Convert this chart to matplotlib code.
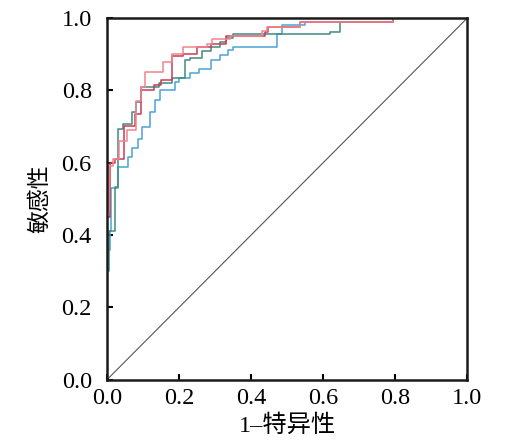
import matplotlib
matplotlib.use("Agg")
import matplotlib.pyplot as plt

# ROC step vertices (1 - specificity, sensitivity)
pink_fpr = [0, 0, 0.006, 0.017, 0.033, 0.055, 0.08, 0.093, 0.106, 0.156, 0.18, 0.212,
            0.277, 0.291, 0.342, 0.43, 0.445, 0.536, 0.795, 1.0]
pink_tpr = [0, 0.47, 0.59, 0.61, 0.66, 0.69, 0.77, 0.81, 0.85, 0.88, 0.90, 0.92,
            0.929, 0.943, 0.952, 0.965, 0.977, 0.989, 1.0, 1.0]

red_fpr = [0, 0, 0.009, 0.021, 0.046, 0.077, 0.095, 0.13, 0.15, 0.18, 0.21, 0.25,
           0.29, 0.33, 0.439, 0.448, 0.536, 0.795, 1.0]
red_tpr = [0, 0.45, 0.60, 0.61, 0.703, 0.735, 0.80, 0.815, 0.83, 0.895, 0.90, 0.92,
           0.93, 0.952, 0.963, 0.977, 0.989, 1.0, 1.0]

teal_fpr = [0, 0, 0.004, 0.021, 0.031, 0.044, 0.068, 0.08, 0.093, 0.143, 0.18, 0.217,
            0.23, 0.263, 0.29, 0.314, 0.33, 0.351, 0.619, 0.647, 0.795, 1.0]
teal_tpr = [0, 0.30, 0.41, 0.533, 0.694, 0.706, 0.74, 0.768, 0.81, 0.822, 0.835, 0.883,
            0.89, 0.91, 0.92, 0.933, 0.945, 0.956, 0.963, 0.989, 1.0, 1.0]

blue_fpr = [0, 0, 0.008, 0.012, 0.031, 0.058, 0.07, 0.085, 0.098, 0.118, 0.132, 0.147,
            0.19, 0.20, 0.23, 0.254, 0.29, 0.314, 0.337, 0.351, 0.471, 0.485, 0.55,
            0.795, 1.0]
blue_tpr = [0, 0.36, 0.41, 0.53, 0.588, 0.616, 0.64, 0.665, 0.70, 0.74, 0.773, 0.80,
            0.823, 0.835, 0.848, 0.86, 0.883, 0.897, 0.911, 0.92, 0.957, 0.98, 0.989,
            1.0, 1.0]

ticks = [0.0, 0.2, 0.4, 0.6, 0.8, 1.0]

plt.rcParams['font.family'] = ['Liberation Serif', 'Noto Sans CJK SC']

fig = plt.figure(figsize=(5.05, 4.44), dpi=100)
ax = fig.add_axes([0.212, 0.145, 0.713, 0.814])

ax.plot([0, 1], [0, 1], color="#555555", lw=0.8)
ax.plot(blue_fpr, blue_tpr, drawstyle="steps-post", color="#4aa3d6", lw=1.1)
ax.plot(teal_fpr, teal_tpr, drawstyle="steps-post", color="#3f8a7e", lw=1.1)
ax.plot(red_fpr, red_tpr, drawstyle="steps-post", color="#c93a55", lw=1.1)
ax.plot(pink_fpr, pink_tpr, drawstyle="steps-post", color="#f08590", lw=1.1)

ax.set_xlim(0, 1)
ax.set_ylim(0, 1)
ax.set_xticks(ticks)
ax.set_yticks(ticks)
ax.set_xticklabels([f"{t:.1f}" for t in ticks])
ax.set_yticklabels([f"{t:.1f}" for t in ticks])
ax.tick_params(direction="in", length=4, width=1.5, labelsize=17.5)
ax.tick_params(axis="x", pad=6)
ax.tick_params(axis="y", pad=11)
for s in ax.spines.values():
    s.set_linewidth(1.8)
    s.set_color("#1a1a1a")

ax.set_xlabel("1\u2013特异性", fontsize=17.5, labelpad=4,
              family=['Liberation Serif', 'Noto Sans CJK SC'])
ax.set_ylabel("敏感性", fontsize=16.5, labelpad=7,
              family=['Noto Sans CJK SC'], fontweight='light')

plt.savefig("out.png", dpi=100)
